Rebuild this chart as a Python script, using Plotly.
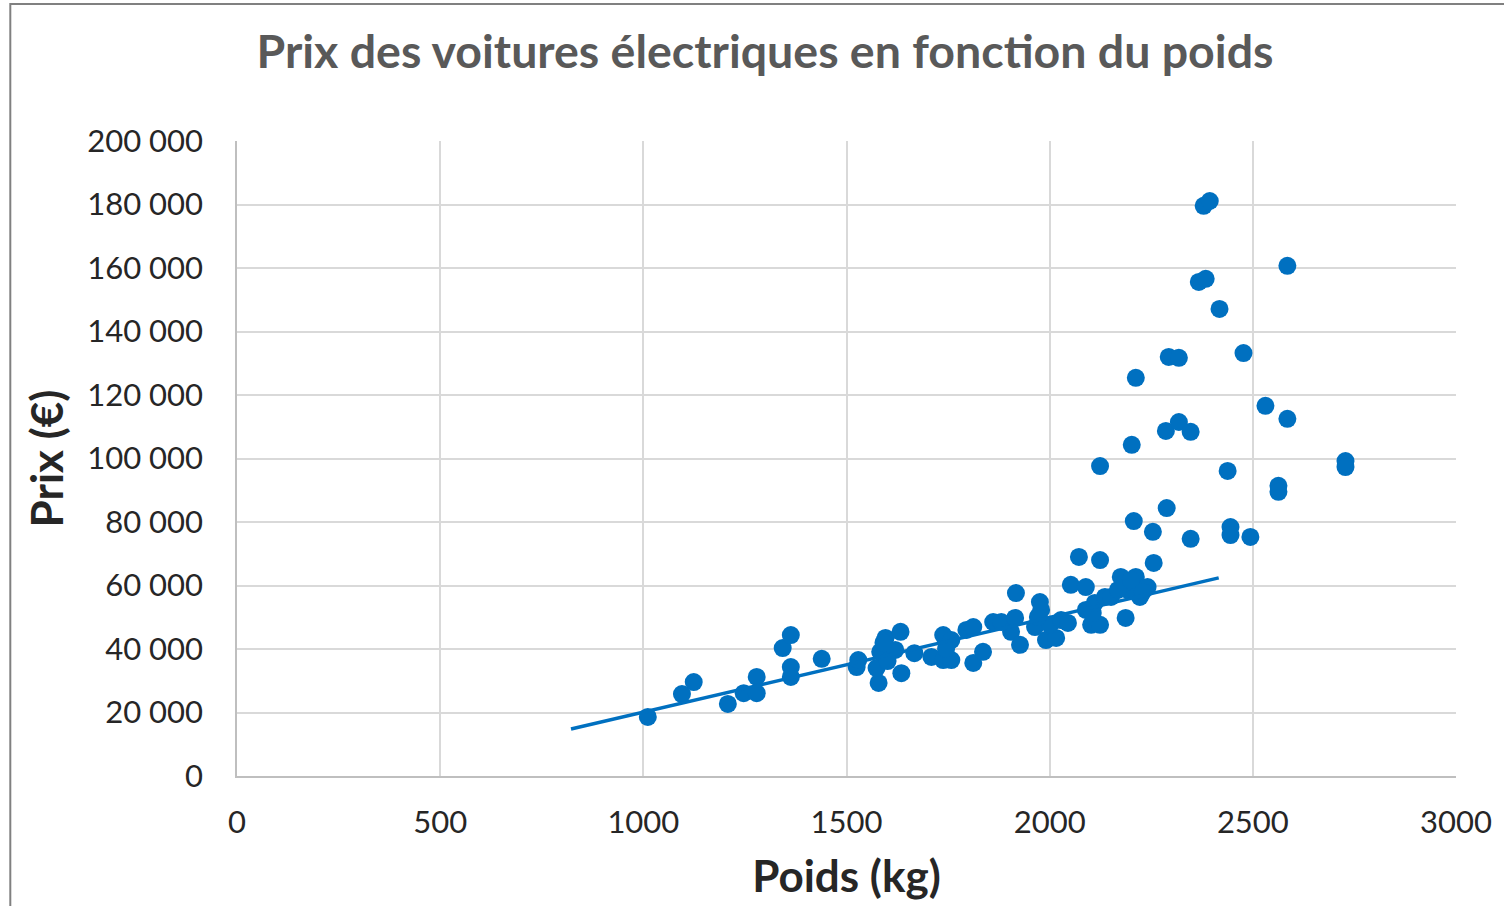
import plotly.graph_objects as go

# Weight (kg) and price (EUR) of electric cars
poids = [1011, 1095, 1124, 1208, 1247, 1279, 1279, 1343, 1363, 1363,
         1363, 1439, 1525, 1529, 1579, 1574, 1596, 1583, 1620, 1633,
         1635, 1667, 1709, 1738, 1738, 1758, 1758, 1601, 1795, 1812,
         1812, 1836, 1861, 1881, 1905, 1917, 1915, 1927, 1964, 1976,
         1979, 1991, 2016, 2001, 2028, 2045, 2052, 2072, 2089, 2089,
         2102, 2124, 2106, 2111, 2136, 2151, 2124, 2124, 2175, 2212,
         2241, 2222, 2187, 2192, 2168, 2202, 2207, 2212, 2254, 2256,
         2288, 2286, 2293, 2318, 2318, 2347, 2347, 2367, 2384, 2379,
         2394, 2418, 2438, 2445, 2445, 2477, 2494, 2531, 2563, 2563,
         2585, 2585, 2728, 2728, 2185, 2200, 2229, 1971, 1591, 1745]
prix = [18600, 25800, 29600, 22700, 26100, 26100, 31200, 40300, 44400, 34300,
        31200, 36900, 34300, 36500, 29300, 34000, 43500, 39100, 39700, 45400,
        32400, 38700, 37500, 44400, 36500, 42800, 36500, 36200, 46000, 46900,
        35600, 39100, 48500, 48500, 45400, 57600, 49800, 41300, 46900, 54800,
        52300, 42800, 43500, 47600, 49100, 48200, 60200, 69000, 59500, 52300,
        47600, 47600, 51300, 54500, 56400, 56400, 97600, 68000, 62700, 62700,
        59500, 56400, 49800, 58600, 58600, 104300, 80300, 125400, 76900, 67100,
        84400, 108700, 132000, 131700, 111500, 108400, 74700, 155600, 156600, 179600,
        181100, 147100, 96100, 78400, 75900, 133200, 75300, 116600, 91400, 89500,
        160700, 112500, 99200, 97300, 60800, 61700, 58000, 50100, 42000, 40000]

# Linear trendline endpoints (as drawn in the source chart)
trend_x = [822, 2416]
trend_y = [14800, 62400]

x_ticks = [0, 500, 1000, 1500, 2000, 2500, 3000]
y_ticks = [0, 20000, 40000, 60000, 80000, 100000, 120000, 140000, 160000, 180000, 200000]

BLUE = "#0070C0"
FONT = "Lato"

fig = go.Figure()
fig.add_trace(go.Scatter(x=poids, y=prix, mode="markers",
                         marker=dict(color=BLUE, size=18, line=dict(width=0)),
                         showlegend=False, hoverinfo="x+y"))
fig.add_trace(go.Scatter(x=trend_x, y=trend_y, mode="lines",
                         line=dict(color=BLUE, width=3.5),
                         showlegend=False, hoverinfo="skip"))

fig.update_layout(
    width=1504, height=906,
    margin=dict(l=237, r=41, t=141, b=130),
    paper_bgcolor="white", plot_bgcolor="white",
    separators=", ",
    font=dict(family=FONT, color="#262626"),
    title=dict(text="<b>Prix des voitures électriques en fonction du poids</b>",
               x=765 / 1504, xref="container", xanchor="center",
               y=1 - 52 / 906, yref="container", yanchor="middle",
               font=dict(family=FONT, size=46.5, color="#595959")),
    shapes=[dict(type="rect", xref="paper", yref="paper",
                 x0=-(237 - 9) / 1226, x1=(1530 - 237) / 1226,
                 y0=-(940 - 776) / 635, y1=(776 - 4) / 635,
                 line=dict(color="#808080", width=2), layer="below")],
)

fig.update_xaxes(range=[0, 3000], tickvals=x_ticks, tickformat="d",
                 showgrid=True, gridcolor="#D9D9D9", gridwidth=1.5,
                 showline=True, linecolor="#BFBFBF", linewidth=1.5,
                 zeroline=False, ticks="", ticklabelstandoff=18,
                 tickfont=dict(family=FONT, size=31, color="#262626"),
                 title=dict(text="<b>Poids (kg)</b>", standoff=22,
                            font=dict(family=FONT, size=44, color="#262626")))
fig.update_yaxes(range=[0, 200000], tickvals=y_ticks, tickformat=",d",
                 showgrid=True, gridcolor="#D9D9D9", gridwidth=1.5,
                 showline=True, linecolor="#BFBFBF", linewidth=1.5,
                 zeroline=False, ticks="", ticklabelstandoff=26,
                 tickfont=dict(family=FONT, size=31, color="#262626"),
                 title=dict(text="<b>Prix (€)</b>", standoff=10,
                            font=dict(family=FONT, size=44, color="#262626")))

fig.write_html("out.html",
               config={"displayModeBar": False},
               post_script="document.body.style.margin='0';document.body.style.overflow='hidden';")
